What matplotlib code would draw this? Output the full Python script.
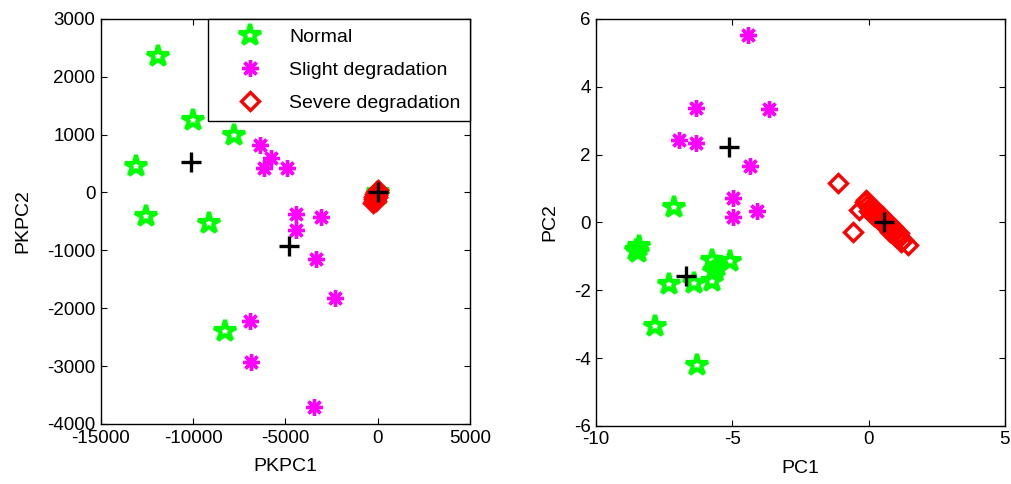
import numpy as np
import matplotlib.pyplot as plt

plt.rcParams['font.family'] = ['Liberation Sans', 'DejaVu Sans']
plt.rcParams['axes.unicode_minus'] = False

# ---- left panel: PKPCA scores ----
pk_normal_x = [-11900, -10000, -7800, -13100, -12550, -9150, -8300, 0, 30]
pk_normal_y = [2350, 1250, 1000, 450, -400, -520, -2400, 0, -40]
pk_slight_x = [-6370, -5780, -6190, -4930, -4420, -3070, -4420, -3360, -2310, -6910, -6860, -3480]
pk_slight_y = [820, 600, 420, 420, -380, -420, -650, -1150, -1820, -2220, -2930, -3710]
pk_severe_x = [-50, -80, -100, -130, -160, -190, -220, -250, 0, -30, -60, -90, -120, 30, -200, -150]
pk_severe_y = [30, 0, -30, -60, -90, -120, -150, -180, 10, -40, -70, -100, -140, 40, -80, -30]
pk_center_x = [-10100, -4820, 0]
pk_center_y = [520, -920, 0]

# ---- right panel: PCA scores ----
pc_normal_x = [-7.13, -8.41, -8.52, -8.45, -5.75, -5.10, -5.57, -5.66, -7.34, -6.42, -5.75, -7.85, -6.30]
pc_normal_y = [0.45, -0.70, -0.80, -0.88, -1.10, -1.14, -1.29, -1.44, -1.83, -1.78, -1.73, -3.06, -4.21]
pc_slight_x = [-4.41, -6.34, -3.64, -6.95, -6.34, -4.36, -4.96, -4.11, -4.96]
pc_slight_y = [5.53, 3.37, 3.34, 2.44, 2.34, 1.65, 0.72, 0.35, 0.16]
pc_severe_x = [-1.11, -0.56, -0.37, 1.43,
               -0.15, -0.05, 0.05, 0.15, 0.25, 0.35, 0.45, 0.55, 0.65, 0.75, 0.85, 0.95, 1.05, 1.15, 1.25,
               0.0, 0.1, 0.2, 0.4, 0.6, 0.8, 1.0, 1.2,
               -0.1, 0.1, 0.3, 0.5, 0.7, 0.9, 1.1]
pc_severe_y = [1.16, -0.29, 0.38, -0.67,
               0.59, 0.51, 0.43, 0.35, 0.27, 0.19, 0.12, 0.04, -0.04, -0.12, -0.20, -0.28, -0.36, -0.43, -0.51,
               0.35, 0.27, 0.20, 0.04, -0.12, -0.27, -0.43, -0.59,
               0.65, 0.49, 0.33, 0.18, 0.02, -0.14, -0.30]
pc_center_x = [-5.14, -6.69, 0.58]
pc_center_y = [2.21, -1.57, 0.01]

star_kw = dict(ls='none', marker='*', ms=16, mfc='none', mec='#00ff00', mew=3)
ast_kw = dict(ls='none', marker=(8, 2, 0), ms=12, color='#ff00ff', mew=2.4)
dia_kw = dict(ls='none', marker='D', ms=9, mfc='none', mec='red', mew=2.4)
plus_kw = dict(ls='none', marker='+', ms=14, color='black', mew=2.4)

fig = plt.figure(figsize=(10.12, 4.84), dpi=100)
ax1 = fig.add_axes([0.0998, 0.124, 0.3646, 0.837])
ax2 = fig.add_axes([0.589, 0.12, 0.404, 0.841])


def style(ax):
    ax.tick_params(direction='in', top=True, right=True, labelsize=13.5, length=4)
    ax.tick_params(axis='x', pad=4)
    ax.tick_params(axis='y', pad=4)
    for s in ax.spines.values():
        s.set_linewidth(1.0)


ax1.plot(pk_normal_x, pk_normal_y, label='Normal', **star_kw)
ax1.plot(pk_slight_x, pk_slight_y, label='Slight degradation', **ast_kw)
ax1.plot(pk_severe_x, pk_severe_y, label='Severe degradation', **dia_kw)
ax1.plot(pk_center_x, pk_center_y, **plus_kw)
ax1.set_xlim(-15000, 5000)
ax1.set_ylim(-4000, 3000)
ax1.set_xticks([-15000, -10000, -5000, 0, 5000])
ax1.set_yticks(np.arange(-4000, 3001, 1000))
ax1.set_xlabel('PKPC1', fontsize=14, labelpad=8)
ax1.set_ylabel('PKPC2', fontsize=14, labelpad=11)
style(ax1)
leg = ax1.legend(loc='upper right', fontsize=14, fancybox=False, edgecolor='black',
                 borderaxespad=0, handletextpad=0.35, borderpad=0.5, labelspacing=0.78,
                 handlelength=3.3)
leg.get_frame().set_linewidth(1.0)
leg.get_frame().set_alpha(1)

ax2.plot(pc_normal_x, pc_normal_y, **star_kw)
ax2.plot(pc_slight_x, pc_slight_y, **ast_kw)
ax2.plot(pc_severe_x, pc_severe_y, **dia_kw)
ax2.plot(pc_center_x, pc_center_y, **plus_kw)
ax2.set_xlim(-10, 5)
ax2.set_ylim(-6, 6)
ax2.set_xticks([-10, -5, 0, 5])
ax2.set_yticks(np.arange(-6, 7, 2))
ax2.set_xlabel('PC1', fontsize=14, labelpad=8)
ax2.set_ylabel('PC2', fontsize=14, labelpad=11)
style(ax2)

plt.savefig('out.png', dpi=100)
